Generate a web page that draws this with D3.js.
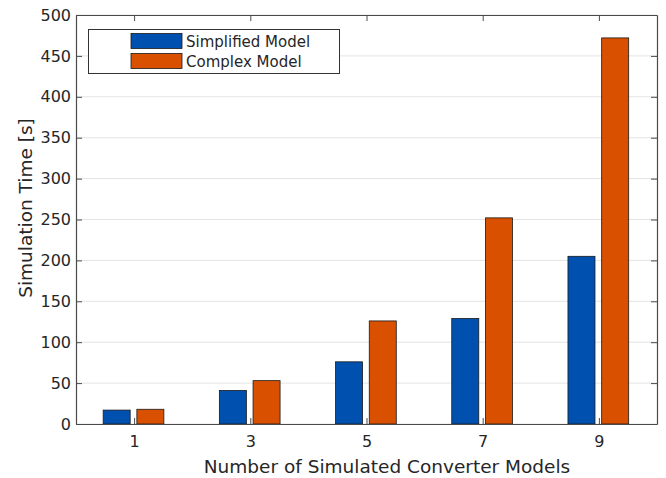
<!DOCTYPE html>
<html>
<head>
<meta charset="utf-8">
<script src="https://cdn.jsdelivr.net/npm/d3@7"></script>
<style>
  body { margin: 0; background: #fff; }
  svg { display: block; font-family: "DejaVu Sans", sans-serif; }
</style>
</head>
<body>
<svg id="chart" width="666" height="478"></svg>
<script>
// Simulation time versus number of converter models
const categories = [1, 3, 5, 7, 9];
const simplifiedTimes = [17, 41, 76, 129, 205];
const complexTimes = [18, 53, 126, 252, 472];
const seriesNames = ["Simplified Model", "Complex Model"];
const seriesColors = ["#0050b0", "#d95000"];
const yTicks = [0, 50, 100, 150, 200, 250, 300, 350, 400, 450, 500];

(function () {
const svg = d3.select("#chart");
const pl = 76, pr = 657, pt = 15, pb = 424;

const x = d3.scaleLinear().domain([0, 10]).range([pl, pr]);
const y = d3.scaleLinear().domain([0, 500]).range([pb, pt]);

const axisColor = "#4a4a4a";
const textColor = "#262626";

// horizontal grid
svg.append("g")
  .selectAll("line")
  .data(yTicks)
  .join("line")
  .attr("x1", pl).attr("x2", pr)
  .attr("y1", d => y(d)).attr("y2", d => y(d))
  .attr("stroke", "#e3e3e3").attr("stroke-width", 1);

// bars
const barW = x(0.465) - x(0);
const offsets = [-0.3, 0.28];
const series = [simplifiedTimes, complexTimes];
series.forEach((vals, si) => {
  svg.append("g")
    .selectAll("rect")
    .data(categories.map((c, i) => ({ c, v: vals[i] })))
    .join("rect")
    .attr("x", d => x(d.c + offsets[si]) - barW / 2)
    .attr("y", d => y(d.v))
    .attr("width", barW)
    .attr("height", d => y(0) - y(d.v))
    .attr("fill", seriesColors[si])
    .attr("stroke", "#1a1a1a")
    .attr("stroke-width", 0.8);
});

// axes (inward ticks, boxed)
const tickLen = 6;
const xAxisB = d3.axisBottom(x).tickValues(categories).tickSizeInner(-tickLen).tickSizeOuter(0).tickPadding(12);
const xAxisT = d3.axisTop(x).tickValues(categories).tickSizeInner(-tickLen).tickSizeOuter(0).tickFormat("");
const yAxisL = d3.axisLeft(y).tickValues(yTicks).tickSizeInner(-tickLen).tickSizeOuter(0).tickPadding(5);
const yAxisR = d3.axisRight(y).tickValues(yTicks).tickSizeInner(-tickLen).tickSizeOuter(0).tickFormat("");

function style(g) {
  g.select(".domain").attr("stroke", axisColor).attr("stroke-width", 1.2);
  g.selectAll(".tick line").attr("stroke", axisColor).attr("stroke-width", 1);
  g.selectAll(".tick text").attr("fill", textColor).attr("font-size", 16)
    .attr("font-family", "DejaVu Sans, sans-serif");
}
svg.append("g").attr("transform", `translate(0,${pb})`).call(xAxisB).call(style);
svg.append("g").attr("transform", `translate(0,${pt})`).call(xAxisT).call(style);
svg.append("g").attr("transform", `translate(${pl},0)`).call(yAxisL).call(style);
svg.append("g").attr("transform", `translate(${pr},0)`).call(yAxisR).call(style);

// axis titles
svg.append("text")
  .attr("x", 387).attr("y", 473)
  .attr("text-anchor", "middle")
  .attr("font-size", 18.5).attr("fill", textColor)
  .text("Number of Simulated Converter Models");
svg.append("text")
  .attr("transform", "translate(32,208) rotate(-90)")
  .attr("text-anchor", "middle")
  .attr("font-size", 18.5).attr("fill", textColor)
  .text("Simulation Time [s]");

// legend
const lg = svg.append("g");
lg.append("rect")
  .attr("x", 88.5).attr("y", 29.5).attr("width", 251).attr("height", 44)
  .attr("fill", "#fff").attr("stroke", "#333").attr("stroke-width", 1);
seriesNames.forEach((name, i) => {
  const yy = 33.5 + i * 20;
  lg.append("rect")
    .attr("x", 131).attr("y", yy).attr("width", 51).attr("height", 15)
    .attr("fill", seriesColors[i]).attr("stroke", "#1a1a1a").attr("stroke-width", 0.8);
  lg.append("text")
    .attr("x", 186).attr("y", yy + 13)
    .attr("font-size", 15).attr("fill", textColor)
    .text(name);
});
})();
</script>
</body>
</html>
